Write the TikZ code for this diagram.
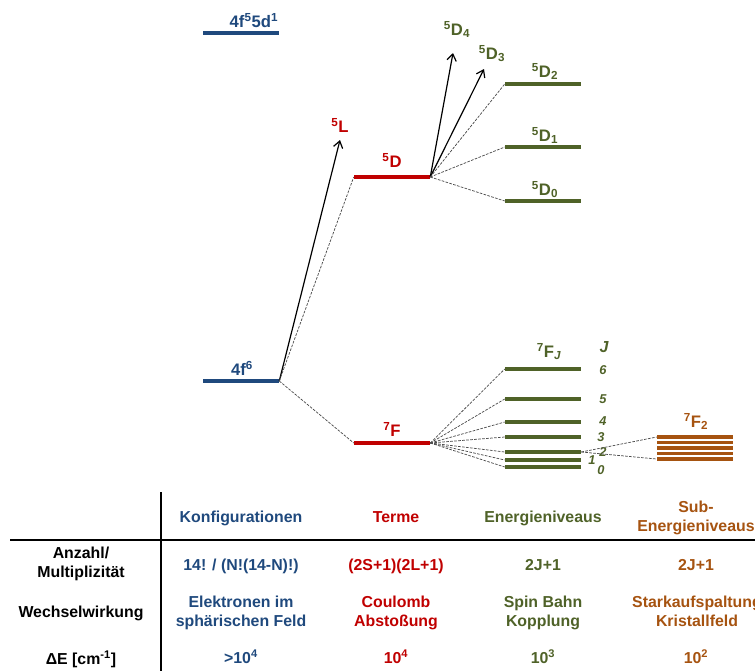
\documentclass[tikz,border=0pt]{standalone}
\usepackage{fontspec}
\setmainfont{Liberation Sans}
\usetikzlibrary{arrows.meta}
\definecolor{lvl_blue}{RGB}{31,73,125}
\definecolor{lvl_red}{RGB}{192,0,0}
\definecolor{lvl_green}{RGB}{79,98,40}
\definecolor{lvl_brown}{RGB}{166,83,16}

\begin{document}
\begin{tikzpicture}[x=0.75pt, y=-0.75pt,
            font=\fontsize{11.9}{14.3}\selectfont\bfseries,
            lvl/.style={inner sep=0pt, minimum width=57pt, minimum height=2.4pt},
            sub/.style={inner sep=0pt, minimum width=57pt, minimum height=2.3pt, fill=lvl_brown},
            link/.style={line width=0.55pt, black!70, dash pattern=on 2pt off 1pt},
            arr/.style={-{Straight Barb[length=5pt, width=7pt]}, line width=0.9pt},
            lab/.style={anchor=base, inner sep=0pt, font=\fontsize{12.5}{15}\selectfont\bfseries},
            jnum/.style={anchor=base, inner sep=0pt, lvl_green,
                         font=\fontsize{9.6}{12}\selectfont\bfseries\itshape},
            cell/.style={align=center, inner sep=0pt}]
            \useasboundingbox (0,0) rectangle (755,671);
            % levels
            \node[lvl, fill=lvl_blue] (cfg) at (241,33) {};
            \node[lvl, fill=lvl_blue] (f6) at (241,381) {};
            \node[lvl, fill=lvl_red] (D) at (392,177) {};
            \node[lvl, fill=lvl_red] (F) at (392,443) {};
            \node[lvl, fill=lvl_green] (D2) at (543,84) {};
            \node[lvl, fill=lvl_green] (D1) at (543,147) {};
            \node[lvl, fill=lvl_green] (D0) at (543,201) {};
            \coordinate (tipL) at (340,140);
            \coordinate (tipD4) at (453,53);
            \coordinate (tipD3) at (484,69);
            \node[lab, lvl_blue] (cfglab) at (254,27) {4f\textsuperscript{5}5d\textsuperscript{1}};
            \node[lab, lvl_blue] (f6lab) at (242,375) {4f\textsuperscript{6}};
            \node[lab, lvl_red] (Llab) at (340,132) {\textsuperscript{5}L};
            \node[lab, lvl_red] (Dlab) at (392,167) {\textsuperscript{5}D};
            \node[lab, lvl_red] (Flab) at (392,436) {\textsuperscript{7}F};
            \node[lab, lvl_green] (D4lab) at (457,35) {\textsuperscript{5}D\textsubscript{4}};
            \node[lab, lvl_green] (D3lab) at (492,59) {\textsuperscript{5}D\textsubscript{3}};
            \node[lab, lvl_green] (D2lab) at (545,77) {\textsuperscript{5}D\textsubscript{2}};
            \node[lab, lvl_green] (D1lab) at (545,141) {\textsuperscript{5}D\textsubscript{1}};
            \node[lab, lvl_green] (D0lab) at (545,195) {\textsuperscript{5}D\textsubscript{0}};
            \node[lab, lvl_green] (FJlab) at (549,357) {\textsuperscript{7}F\textsubscript{\itshape J}};
            \node[lab, lvl_brown] (F2lab) at (696,427) {\textsuperscript{7}F\textsubscript{2}};
            \node[jnum] (Jlab) at (604,352) {\fontsize{12}{14}\selectfont J};
            \draw[arr] (f6.east) -- (tipL);
            \draw[link] (f6.east) -- (D.west);
            \draw[link] (f6.east) -- (F.west);
            \draw[arr] (D.east) -- (tipD4);
            \draw[arr] (D.east) -- (tipD3);
            \draw[link] (D.east) -- (D2.west);
            \draw[link] (D.east) -- (D1.west);
            \draw[link] (D.east) -- (D0.west);
            \foreach \j/\yy/\nx/\ny in {6/369/603/374, 5/399/603/403, 4/422/603/425,
                                       3/437/601/441, 2/452/603/456, 1/460/592/464, 0/467/601/474} {
              \node[lvl, fill=lvl_green] (F\j) at (543,\yy) {};
              \node[jnum] (jn\j) at (\nx,\ny) {\j};
              \draw[link] (F.east) -- (F\j.west);
            }
            \foreach \k/\yy in {1/437, 2/442.5, 3/448, 4/453.5, 5/459}
              \node[sub] (st\k) at (695,\yy) {};
            \draw[link] (F2.east) -- (st1.west);
            \draw[link] (F2.east) -- (st5.west);
            % table
            \draw[line width=0.9pt] (161,492) -- (161,671);
            \draw[line width=1.2pt] (10,540) -- (755,540);
            \node[cell, anchor=base, lvl_blue] (hKonf) at (241,522) {Konfigurationen};
            \node[cell, anchor=base, lvl_red] (hTerm) at (396,522) {Terme};
            \node[cell, anchor=base, lvl_green] (hNiv) at (543,522) {Energieniveaus};
            \node[cell, lvl_brown] (hSub) at (696,518) {Sub-\\Energieniveaus};
            \node[cell] (rAnz) at (81,564) {Anzahl/\\Multiplizität};
            \node[cell, anchor=base, lvl_blue] (aKonf) at (241,570) {14! / (N!(14-N)!)};
            \node[cell, anchor=base, lvl_red] (aTerm) at (396,570) {(2S+1)(2L+1)};
            \node[cell, anchor=base, lvl_green] (aNiv) at (543,570) {2J+1};
            \node[cell, anchor=base, lvl_brown] (aSub) at (696,570) {2J+1};
            \node[cell, anchor=base] (rWW) at (81,617) {Wechselwirkung};
            \node[cell, lvl_blue] (wKonf) at (241,613) {Elektronen im\\sphärischen Feld};
            \node[cell, lvl_red] (wTerm) at (396,613) {Coulomb\\Abstoßung};
            \node[cell, lvl_green] (wNiv) at (543,613) {Spin Bahn\\Kopplung};
            \node[cell, lvl_brown] (wSub) at (697,611.5) {Starkaufspaltung\\Kristallfeld};
            \node[cell, anchor=base] (rDE) at (81,664) {ΔE [cm\textsuperscript{-1}]};
            \node[cell, anchor=base, lvl_blue] (eKonf) at (241,663) {>10\textsuperscript{4}};
            \node[cell, anchor=base, lvl_red] (eTerm) at (396,663) {10\textsuperscript{4}};
            \node[cell, anchor=base, lvl_green] (eNiv) at (543,663) {10\textsuperscript{3}};
            \node[cell, anchor=base, lvl_brown] (eSub) at (696,663) {10\textsuperscript{2}};
          \end{tikzpicture}
\end{document}
